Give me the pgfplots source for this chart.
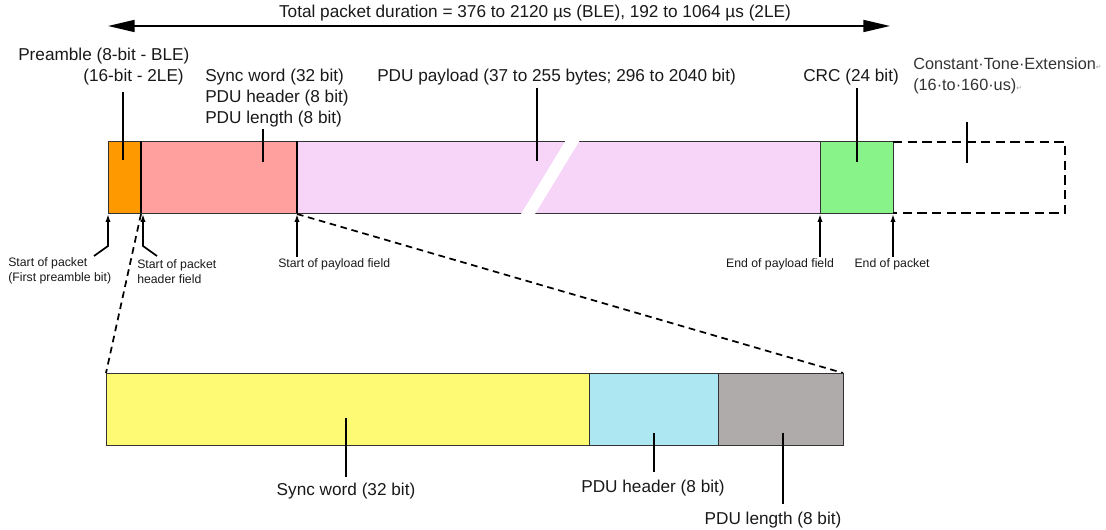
\documentclass[border=0pt]{standalone}
\usepackage{pgfplots}
\pgfplotsset{compat=1.18}
\usepackage{fontspec}
\setmainfont{Liberation Sans}
\newfontfamily\symfont{DejaVu Sans}
\usetikzlibrary{arrows.meta}

\definecolor{cPre}{HTML}{FF9900}
\definecolor{cSync}{HTML}{FFA09F}
\definecolor{cPay}{HTML}{F6D5F9}
\definecolor{cCrc}{HTML}{88F388}
\definecolor{cSw}{HTML}{FFFA73}
\definecolor{cHdr}{HTML}{ADE7F2}
\definecolor{cLen}{HTML}{AFABAB}

\begin{document}
\begin{tikzpicture}[
  lbl/.style={font=\fontsize{12.9}{14}\selectfont, inner sep=0pt, text=black!90},
  sml/.style={font=\fontsize{9.2}{11.6}\selectfont, inner sep=0pt, align=left, text=black!90},
  box/.style={draw=black!80, line width=0.6pt},
  lead/.style={black, line width=1.5pt},
  arr/.style={black, line width=1.3pt, -{Latex[length=6pt,width=4pt]}},
]
\begin{axis}[
  width=829.5pt, height=397.5pt, scale only axis,
  xmin=0, xmax=1106, ymin=0, ymax=530, y dir=reverse,
  hide axis, clip=false,
  every axis plot/.append style={mark=none},
]
% top packet bar
\addplot[box, fill=cPre]  coordinates {(108,141) (141,141) (141,213) (108,213)} -- cycle;
\addplot[box, fill=cSync] coordinates {(141,141) (297,141) (297,213) (141,213)} -- cycle;
\addplot[box, fill=cPay]  coordinates {(297,141) (820,141) (820,213) (297,213)} -- cycle;
\addplot[box, fill=cCrc]  coordinates {(820,141) (893,141) (893,213) (820,213)} -- cycle;
% break in the payload
\addplot[fill=white, draw=none] coordinates {(566,140) (580,140) (535,214) (521,214)} -- cycle;
% constant tone extension
\addplot[black, line width=2pt, dash pattern=on 7pt off 4pt] coordinates {(893,142) (1065,142) (1065,213) (893,213)};
% separator lines
\addplot[black, line width=0.9pt] coordinates {(141,141) (141,213)};
\addplot[black, line width=1.2pt] coordinates {(297,141) (297,213)};

% total duration arrow
\addplot[black, line width=1.3pt, {Triangle[length=20pt,width=9pt]}-{Triangle[length=20pt,width=9pt]}] coordinates {(108,26) (890,26)};
\node[lbl, anchor=center] at (535,13) {Total packet duration = 376 to 2120 µs (BLE), 192 to 1064 µs (2LE)};

% labels above
\addplot[lead] coordinates {(123,92) (123,160)};
\node[lbl, anchor=base west] at (18,61) {Preamble (8-bit - BLE)};
\node[lbl, anchor=base east] at (184,82) {(16-bit - 2LE)};
\addplot[lead] coordinates {(263,129) (263,162)};
\node[lbl, anchor=base west] at (205,82) {Sync word (32 bit)};
\node[lbl, anchor=base west] at (205,103) {PDU header (8 bit)};
\node[lbl, anchor=base west] at (205,124) {PDU length (8 bit)};
\addplot[lead] coordinates {(537,88) (537,161)};
\node[lbl, anchor=base west] at (377,82) {PDU payload (37 to 255 bytes; 296 to 2040 bit)};
\addplot[lead] coordinates {(857,88) (857,162)};
\node[lbl, anchor=base west] at (803,82) {CRC (24 bit)};
\addplot[lead] coordinates {(967,122) (967,163)};
\node[font=\fontsize{12.2}{14}\selectfont, inner sep=0pt, text=black!80, anchor=base west] at (913,70) {Constant·Tone·Extension{\fontsize{5}{5}\symfont\textcolor{black!40}{↵}}};
\node[font=\fontsize{12.2}{14}\selectfont, inner sep=0pt, text=black!80, anchor=base west] at (913,91) {(16·to·160·us){\fontsize{5}{5}\symfont\textcolor{black!40}{↵}}};

% pointers below
\addplot[arr] coordinates {(94,256) (108,246) (108,214)};
\node[sml, anchor=base west] at (8,282) {Start of packet\\(First preamble bit)};
\addplot[arr] coordinates {(157,256) (143,246) (143,214)};
\node[sml, anchor=base west] at (137,284) {Start of packet\\header field};
\addplot[arr] coordinates {(297,257) (297,214)};
\node[sml, anchor=base west] at (278,268) {Start of payload field};
\addplot[arr] coordinates {(820,257) (820,214)};
\node[sml, anchor=base] at (780,268) {End of payload field};
\addplot[arr] coordinates {(893,257) (893,214)};
\node[sml, anchor=base] at (892,268) {End of packet};

% zoom lines
\addplot[black, line width=1.3pt, dash pattern=on 5pt off 3.5pt] coordinates {(141,214) (106,373)};
\addplot[black, line width=1.3pt, dash pattern=on 5pt off 3.5pt] coordinates {(297,214) (843,373)};

% expanded header bar
\addplot[box, fill=cSw]  coordinates {(106,373) (589,373) (589,445) (106,445)} -- cycle;
\addplot[box, fill=cHdr] coordinates {(589,373) (718,373) (718,445) (589,445)} -- cycle;
\addplot[box, fill=cLen] coordinates {(718,373) (843,373) (843,445) (718,445)} -- cycle;
\addplot[lead] coordinates {(346,418) (346,477)};
\node[lbl, anchor=base] at (346,495) {Sync word (32 bit)};
\addplot[lead] coordinates {(654,433) (654,472)};
\node[lbl, anchor=base] at (653,492) {PDU header (8 bit)};
\addplot[lead] coordinates {(783,433) (783,504)};
\node[lbl, anchor=base] at (773,524) {PDU length (8 bit)};
\end{axis}
\pgfresetboundingbox
\path (current axis.south west) rectangle (current axis.north east);
\end{tikzpicture}
\end{document}
